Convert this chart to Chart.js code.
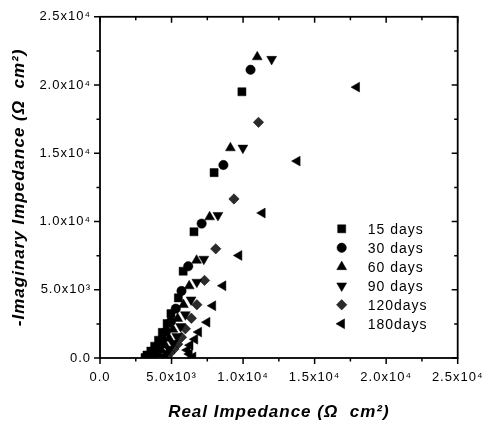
<!DOCTYPE html>
<html><head><meta charset="utf-8">
<script src="https://cdn.jsdelivr.net/npm/chart.js@4.4.0/dist/chart.umd.min.js"></script>
<style>html,body{margin:0;padding:0;background:#fff;}#wrap{width:492px;height:426px;}</style>
</head><body><div id="wrap"><canvas id="c" width="492" height="426"></canvas></div>
<script>
const seriesNames = ['15 days', '30 days', '60 days', '90 days', '120days', '180days'];

const real15 = [9919, 7975, 6568, 5811, 5476, 4959, 4691, 4356, 4088, 3820, 3552, 3284, 3150];
const imag15 = [19508, 13583, 9248, 6358, 4407, 3251, 2529, 1879, 1300, 867, 506, 217, 36];

const real30 = [10522, 8625, 7104, 6166, 5697, 5295, 4959, 4624, 4356, 4088, 3887, 3686, 3485];
const imag30 = [21118, 14139, 9848, 6719, 4913, 3613, 2673, 1951, 1373, 867, 506, 217, 36];

const real60 = [10991, 9115, 7660, 6749, 6233, 5831, 5429, 5094, 4825, 4557, 4289, 4088, 3887];
const imag60 = [22058, 15389, 10332, 7153, 5274, 3902, 2890, 2095, 1445, 939, 578, 289, 36];

const real90 = [11997, 9986, 8243, 7258, 6769, 6367, 5965, 5630, 5362, 5094, 4825, 4624, 4423];
const imag90 = [21892, 15389, 10455, 7247, 5563, 4263, 3179, 2312, 1590, 1084, 650, 361, 108];

const real120 = [11078, 9363, 8089, 7305, 6769, 6387, 5965, 5697, 5429, 5161, 4892, 4691];
const imag120 = [17268, 11654, 7998, 5686, 3902, 2912, 2146, 1517, 1012, 650, 361, 108];

const real180 = [17941, 13786, 11347, 9718, 8598, 7888, 7486, 6903, 6635, 6300, 6100, 6250, 6500];
const imag180 = [19847, 14428, 10621, 7514, 5296, 3829, 2623, 1900, 1373, 939, 578, 289, 72];

const tickValues = [0, 5000, 10000, 15000, 20000, 25000];
const tickLabels = ['0.0', '5.0x10\u00B3', '1.0x10\u2074', '1.5x10\u2074', '2.0x10\u2074', '2.5x10\u2074'];
const minorStep = 2500;

const reals = [real15, real30, real60, real90, real120, real180];
const imags = [imag15, imag30, imag60, imag90, imag120, imag180];
const styles = [
  {pointStyle: 'rect', radius: 5.7, rotation: 0, color: '#000'},
  {pointStyle: 'circle', radius: 4.7, rotation: 0, color: '#000'},
  {pointStyle: 'triangle', radius: 5.7, rotation: 0, color: '#000'},
  {pointStyle: 'triangle', radius: 5.7, rotation: 180, color: '#000'},
  {pointStyle: 'rectRot', radius: 5.2, rotation: 0, color: '#2b2b2b'},
  {pointStyle: 'triangle', radius: 5.7, rotation: 270, color: '#000'}
];

const datasets = seriesNames.map((name, i) => ({
  label: name,
  data: reals[i].map((v, k) => ({x: v, y: imags[i][k]})),
  pointStyle: styles[i].pointStyle,
  pointRadius: styles[i].radius,
  pointRotation: styles[i].rotation,
  backgroundColor: styles[i].color,
  borderColor: '#000',
  borderWidth: 0.5,
  showLine: false
}));

const FONT = "'Liberation Sans', Arial, sans-serif";

const spacingPlugin = {
  id: 'spacing',
  beforeDraw(chart) { chart.ctx.letterSpacing = '1px'; }
};

const framePlugin = {
  id: 'frame',
  afterDraw(chart) {
    const {ctx, chartArea: a, scales: {x, y}} = chart;
    ctx.save();
    ctx.strokeStyle = '#000';
    ctx.lineWidth = 1.8;
    ctx.strokeRect(a.left, a.top, a.right - a.left, a.bottom - a.top);
    ctx.lineWidth = 1.5;
    const max = tickValues[tickValues.length - 1];
    for (let v = tickValues[0]; v <= max; v += minorStep) {
      const major = tickValues.includes(v);
      const len = major ? 6 : 3.5;
      const px = x.getPixelForValue(v);
      const py = y.getPixelForValue(v);
      ctx.beginPath();
      ctx.moveTo(px, a.bottom); ctx.lineTo(px, a.bottom + len);
      ctx.moveTo(px, a.top); ctx.lineTo(px, a.top + len);
      ctx.moveTo(a.left - len, py); ctx.lineTo(a.left, py);
      ctx.moveTo(a.right - len, py); ctx.lineTo(a.right, py);
      ctx.stroke();
    }
    // legend inside plot
    const lx = a.right - 116, ly = a.top + 212, step = 19;
    ctx.font = '14px ' + FONT;
    ctx.textBaseline = 'middle';
    ctx.textAlign = 'left';
    chart.data.datasets.forEach((ds, i) => {
      const yy = ly + i * step;
      ctx.fillStyle = ds.backgroundColor;
      ctx.strokeStyle = '#000';
      ctx.lineWidth = 0.5;
      Chart.helpers.drawPoint(ctx, {pointStyle: ds.pointStyle, radius: ds.pointRadius, rotation: ds.pointRotation, borderWidth: 0.5}, lx, yy);
      ctx.fillStyle = '#000';
      ctx.fillText(ds.label, lx + 26, yy + 1);
    });
    ctx.restore();
  }
};

new Chart(document.getElementById('c'), {
  type: 'scatter',
  data: {datasets},
  plugins: [spacingPlugin, framePlugin],
  options: {
    responsive: false,
    animation: false,
    events: [],
    layout: {padding: {top: 12, right: 19, left: 0, bottom: 0}, autoPadding: false},
    plugins: {legend: {display: false}, tooltip: {enabled: false}},
    scales: {
      x: {
        type: 'linear', min: 0, max: 25000,
        afterFit(s) { s.height = 68; },
        afterBuildTicks(s) { s.ticks = tickValues.map(v => ({value: v})); },
        grid: {display: false, drawTicks: false},
        border: {display: false},
        ticks: {
          padding: 12, color: '#000', font: {family: FONT, size: 13},
          maxRotation: 0, autoSkip: false,
          callback: (v) => tickLabels[tickValues.indexOf(v)]
        },
        title: {display: true, text: 'Real Impedance (\u03A9  cm\u00B2)', color: '#000',
          font: {family: FONT, size: 17, style: 'italic', weight: 'bold'}, padding: {top: 0, bottom: 3}}
      },
      y: {
        type: 'linear', min: 0, max: 25000,
        afterFit(s) { s.width = 100; },
        afterBuildTicks(s) { s.ticks = tickValues.map(v => ({value: v})); },
        grid: {display: false, drawTicks: false},
        border: {display: false},
        ticks: {
          padding: 9, color: '#000', font: {family: FONT, size: 13},
          autoSkip: false,
          callback: (v) => tickLabels[tickValues.indexOf(v)]
        },
        title: {display: true, text: '-Imaginary Impedance (\u03A9  cm\u00B2)', color: '#000',
          font: {family: FONT, size: 17, style: 'italic', weight: 'bold'}, padding: {top: 9, bottom: 0}}
      }
    }
  }
});
</script>
</body></html>
